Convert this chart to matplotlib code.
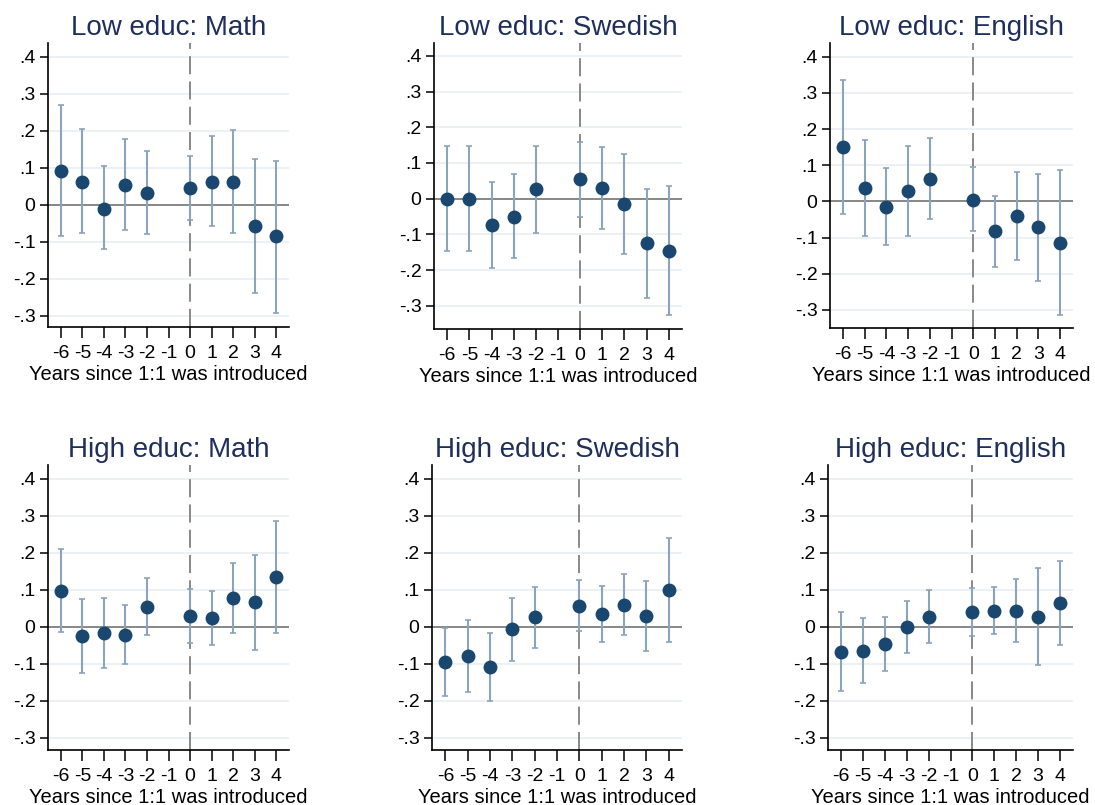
import numpy as np
import matplotlib
matplotlib.use("Agg")
import matplotlib.pyplot as plt

plt.rcParams['font.family'] = ['Liberation Sans', 'DejaVu Sans']

years = [-6, -5, -4, -3, -2, 0, 1, 2, 3, 4]
xticks = [-6, -5, -4, -3, -2, -1, 0, 1, 2, 3, 4]
yticks = [-0.3, -0.2, -0.1, 0, 0.1, 0.2, 0.3, 0.4]
ytick_labels = ["-.3", "-.2", "-.1", "0", ".1", ".2", ".3", ".4"]

# point estimates and 95% CI bounds
low_math_b = [0.092, 0.062, -0.011, 0.053, 0.032, 0.044, 0.062, 0.062, -0.059, -0.086]
low_math_lo = [-0.084, -0.078, -0.121, -0.070, -0.080, -0.041, -0.059, -0.076, -0.238, -0.292]
low_math_hi = [0.268, 0.204, 0.104, 0.178, 0.146, 0.132, 0.185, 0.202, 0.122, 0.119]

low_swe_b = [0.0, 0.0, -0.075, -0.050, 0.026, 0.054, 0.029, -0.015, -0.125, -0.147]
low_swe_lo = [-0.146, -0.146, -0.194, -0.167, -0.097, -0.051, -0.084, -0.154, -0.277, -0.327]
low_swe_hi = [0.148, 0.148, 0.047, 0.068, 0.148, 0.160, 0.144, 0.125, 0.028, 0.036]

low_eng_b = [0.151, 0.037, -0.015, 0.029, 0.062, 0.005, -0.082, -0.040, -0.071, -0.116]
low_eng_lo = [-0.034, -0.095, -0.120, -0.095, -0.048, -0.083, -0.180, -0.161, -0.221, -0.315]
low_eng_hi = [0.336, 0.170, 0.092, 0.153, 0.175, 0.095, 0.016, 0.082, 0.077, 0.087]

high_math_b = [0.097, -0.026, -0.017, -0.021, 0.053, 0.028, 0.024, 0.077, 0.066, 0.135]
high_math_lo = [-0.015, -0.124, -0.111, -0.100, -0.023, -0.045, -0.049, -0.018, -0.063, -0.016]
high_math_hi = [0.210, 0.074, 0.077, 0.059, 0.132, 0.101, 0.097, 0.173, 0.195, 0.286]

high_swe_b = [-0.095, -0.079, -0.109, -0.007, 0.025, 0.057, 0.035, 0.060, 0.029, 0.100]
high_swe_lo = [-0.187, -0.177, -0.201, -0.092, -0.058, -0.011, -0.041, -0.022, -0.066, -0.041]
high_swe_hi = [-0.003, 0.017, -0.017, 0.079, 0.107, 0.125, 0.111, 0.142, 0.124, 0.241]

high_eng_b = [-0.068, -0.065, -0.046, 0.000, 0.026, 0.041, 0.043, 0.043, 0.027, 0.063]
high_eng_lo = [-0.174, -0.151, -0.119, -0.070, -0.044, -0.024, -0.020, -0.041, -0.102, -0.049]
high_eng_hi = [0.040, 0.023, 0.027, 0.070, 0.098, 0.105, 0.107, 0.129, 0.159, 0.177]

titles = ["Low educ: Math", "Low educ: Swedish", "Low educ: English",
          "High educ: Math", "High educ: Swedish", "High educ: English"]
panels = [(low_math_b, low_math_lo, low_math_hi),
          (low_swe_b, low_swe_lo, low_swe_hi),
          (low_eng_b, low_eng_lo, low_eng_hi),
          (high_math_b, high_math_lo, high_math_hi),
          (high_swe_b, high_swe_lo, high_swe_hi),
          (high_eng_b, high_eng_lo, high_eng_hi)]

# axes boxes in pixels: left, right, top, bottom
boxes = [(48, 289, 43, 327), (434, 682, 43, 329), (830, 1073, 43, 328),
         (48, 289, 465, 750), (432, 682, 465, 750), (828, 1073, 465, 750)]
ylims = [(-0.331, 0.437), (-0.365, 0.436), (-0.35, 0.438),
         (-0.333, 0.437), (-0.333, 0.437), (-0.333, 0.437)]

W, H = 1095, 805
fig = plt.figure(figsize=(W / 100, H / 100), dpi=100)

navy = "#1a476f"
ci_col = "#8ba3bb"

for i in range(6):
    x0, x1, yt, yb = boxes[i]
    ax = fig.add_axes([x0 / W, 1 - yb / H, (x1 - x0) / W, (yb - yt) / H])
    b, lo, hi = panels[i]
    b = np.array(b)
    err = [b - np.array(lo), np.array(hi) - b]
    for y in yticks:
        ax.axhline(y, color="#eaf0f4", lw=1.3, zorder=0)
    ax.axhline(0, color="#7f7f7f", lw=1.3, zorder=1)
    ax.axvline(0, color="#7f7f7f", lw=1.3, dashes=(10, 4), zorder=1)
    ax.errorbar(years, b, yerr=err, fmt="none", ecolor=ci_col, elinewidth=1.5,
                capsize=2.3, capthick=1.2, zorder=2)
    ax.plot(years, b, "o", color=navy, markersize=9, zorder=3)
    ax.set_xlim(-6.6, 4.6)
    ax.set_ylim(*ylims[i])
    ax.set_xticks(xticks)
    ax.set_xticklabels([str(t) for t in xticks])
    ax.set_yticks(yticks)
    ax.set_yticklabels(ytick_labels)
    ax.tick_params(axis="x", labelsize=14, length=8, width=1.1, pad=5)
    ax.tick_params(axis="y", labelsize=14, length=6, width=1.1, pad=3)
    for s in ["top", "right"]:
        ax.spines[s].set_visible(False)
    for s in ["left", "bottom"]:
        ax.spines[s].set_linewidth(1.2)
    ax.set_xlabel("Years since 1:1 was introduced", fontsize=14.5, labelpad=2)
    ax.set_title(titles[i], fontsize=20, color="#1f2f5c", pad=6)

fig.savefig("out.png", dpi=100)
